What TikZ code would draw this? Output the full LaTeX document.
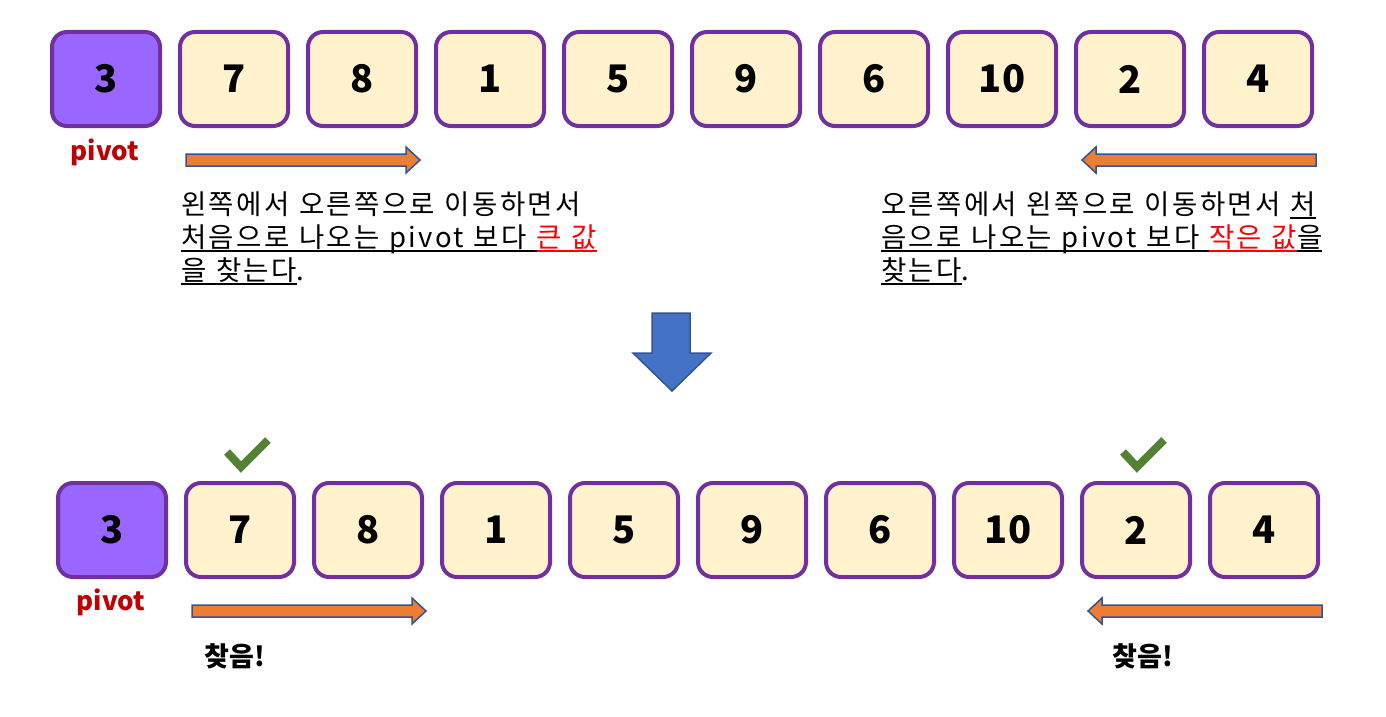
\documentclass[tikz,border=0pt]{standalone}
\usepackage{fontspec}
\setmainfont{Noto Sans CJK KR}
\newfontfamily\descfont[LetterSpace=8.5,WordSpace=1.15]{Noto Sans CJK KR}
\definecolor{cellline}{HTML}{7030A0}
\definecolor{cellfill}{HTML}{FFF2CC}
\definecolor{pivotfill}{HTML}{9966FF}
\definecolor{pivotred}{HTML}{C00000}
\definecolor{textred}{HTML}{FF0000}
\definecolor{arroworange}{HTML}{ED7D31}
\definecolor{arrowline}{HTML}{2F5597}
\definecolor{bluearrow}{HTML}{4472C4}
\definecolor{checkgreen}{HTML}{548235}
\newsavebox\undlbox
\newcommand\undl[1]{\sbox\undlbox{#1}\rlap{\rule[-4.5pt]{\wd\undlbox}{1.3pt}}\usebox\undlbox}
\begin{document}
\begin{tikzpicture}[x=1pt, y=-1pt]
  \tikzstyle{cell}=[draw=cellline, line width=4pt, rounded corners=15pt, fill=cellfill, minimum width=108pt, minimum height=94pt, inner sep=0pt, font=\fontsize{38}{40}\selectfont\bfseries]
  \tikzstyle{pivotcell}=[cell, fill=pivotfill]
  \tikzstyle{pivotlabel}=[text=pivotred, inner sep=0pt, font=\fontsize{26}{28}\selectfont\bfseries]
  \tikzstyle{desc}=[anchor=base west, inner sep=0pt, font=\descfont\fontsize{27.5}{33}\selectfont]
  \tikzstyle{orangearrow}=[draw=arrowline, line width=1.5pt, fill=arroworange, line join=miter]
  \tikzstyle{checkmark}=[draw=checkgreen, line width=8pt, line join=miter]
  \tikzstyle{found}=[inner sep=0pt, font=\fontsize{27}{29}\selectfont\bfseries]
  \useasboundingbox (0,0) rectangle (1386,717);
  % Top row and the pivot
  \node[pivotcell] (t1) at (106,79) {3};
  \foreach \v [count=\i from 2] in {7,8,1,5,9,6,10,2,4}
    \node[cell] (t\i) at ({106+128*(\i-1)},79) {\v};
  \node[pivotlabel] (tpivot) at (105,152) {pivot};

  % Scan directions
  \foreach \x/\y/\d in {186/160/1, 1316/160/-1, 192/611/1, 1322/611/-1}
    \draw[orangearrow] (\x,\y-6) -- ({\x+\d*220},\y-6) -- ({\x+\d*220},\y-13)
      -- ({\x+\d*234},\y) -- ({\x+\d*220},\y+13) -- ({\x+\d*220},\y+6) -- (\x,\y+6) -- cycle;

  \node[desc] (l1) at (181,214) {왼쪽에서 오른쪽으로 이동하면서};
  \node[desc] (l2) at (181,247) {\undl{처음으로 나오는 pivot 보다 }\textcolor{textred}{\undl{큰 값}}};
  \node[desc] (l3) at (181,280) {\undl{을 찾는다}.};
  \node[desc] (r1) at (881,214) {오른쪽에서 왼쪽으로 이동하면서 \undl{처}};
  \node[desc] (r2) at (881,247) {\undl{음으로 나오는 pivot 보다 }\textcolor{textred}{\undl{작은 값}}\undl{을}};
  \node[desc] (r3) at (881,280) {\undl{찾는다}.};

  \draw[fill=bluearrow, draw=arrowline, line width=1.5pt, line join=miter]
    (652,313) -- (690,313) -- (690,353) -- (711,353) -- (672,391) -- (633,353) -- (652,353) -- cycle;

  % Bottom row after the scan
  \node[pivotcell] (b1) at (112,530) {3};
  \foreach \v [count=\i from 2] in {7,8,1,5,9,6,10,2,4}
    \node[cell] (b\i) at ({112+128*(\i-1)},530) {\v};
  \node[pivotlabel] (bpivot) at (111,602) {pivot};
  \foreach \n in {b2,b9}
    \draw[checkmark] ([shift={(-13,-29)}]\n.north) -- ([shift={(1,-14)}]\n.north) -- ([shift={(28,-41)}]\n.north);
  \node[found] (lfound) at (235,656) {찾음!};
  \node[found] (rfound) at (1143,656) {찾음!};
\end{tikzpicture}
\end{document}
